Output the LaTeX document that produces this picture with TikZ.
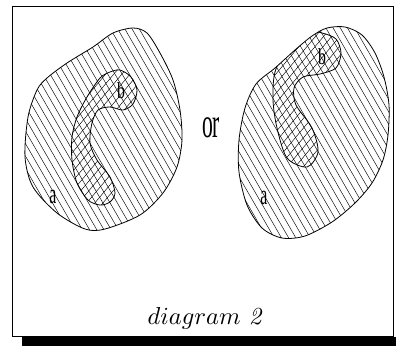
\documentclass[tikz,border=0pt]{standalone}
\usepackage{fontspec}
\newfontfamily\tms{Liberation Serif}
\begin{document}
\begin{tikzpicture}[x=1pt,y=-1pt,
  outline/.style={line width=0.8pt},
  hatchline/.style={line width=0.45pt},
  lbl/.style={inner sep=0pt, font=\tms}]
\def\leftA{plot[smooth cycle] coordinates {(133,28) (147,33) (160,53) (173,80) (180,110) (182,140) (177,167) (163,193) (140,215) (105,229) (85,229) (57,213) (33,187) (25,157) (28,117) (37,90) (47,78) (67,63) (93,47) (113,33)}}
\def\leftB{plot[smooth cycle] coordinates {(120,70) (131,77) (137,90) (133,104) (123,110) (110,107) (98,110) (92,123) (90,143) (97,160) (110,177) (115,193) (110,202) (100,205) (88,200) (77,183) (72,160) (72,137) (77,117) (87,97) (100,78) (110,72)}}
\def\rightA{plot[smooth cycle] coordinates {(327,28) (345,27) (362,35) (375,53) (384,77) (389,105) (388,135) (383,160) (372,183) (355,203) (332,222) (305,236) (282,238) (262,228) (247,205) (239,172) (239,140) (245,108) (256,84) (275,68) (295,50) (312,36)}}
\def\rightB{plot[smooth cycle] coordinates {(322,33) (336,39) (341,53) (336,68) (320,74) (303,77) (294,88) (296,105) (312,128) (318,152) (307,167) (287,158) (277,128) (273,100) (275,72) (288,46) (305,31)}}
\def\backlines{\foreach \i in {0,...,85} {\draw[hatchline] ({-200+7.2*\i},-10) -- ++(144.3,250);}}
\def\fwdlines{\foreach \i in {0,...,80} {\draw[hatchline] ({-220+8.1*\i},250) -- ++(218,-260);}}
\useasboundingbox (0,0) rectangle (396,346);
\fill (22,337) rectangle (396,346);
\draw[line width=0.9pt] (12,6) rectangle (393.5,336);
% left blob
\begin{scope}
  \clip \leftA;
  \backlines
  \begin{scope}
    \clip \leftB;
    \fwdlines
  \end{scope}
  \draw[outline] \leftB;
\end{scope}
\draw[outline] \leftA;
% right blob
\begin{scope}
  \clip \rightA;
  \backlines
  \begin{scope}
    \clip \rightB;
    \fwdlines
  \end{scope}
  \draw[outline] \rightB;
\end{scope}
\draw[outline] \rightA;
% labels
\node[lbl] (la) at (53,197) {\scalebox{1}[1.8]{\fontsize{15.8}{16}\selectfont a}};
\node[lbl] (lb) at (121,91) {\scalebox{1}[1.45]{\fontsize{15.8}{16}\selectfont b}};
\node[lbl] (ra) at (264,198) {\scalebox{1}[1.8]{\fontsize{15.8}{16}\selectfont a}};
\node[lbl] (rb) at (322,57) {\scalebox{1}[1.45]{\fontsize{15.8}{16}\selectfont b}};
\node[lbl] (or) at (211,128) {\scalebox{1}[1.95]{\fontsize{21.6}{22}\selectfont or}};
\node[inner sep=0pt, anchor=base] (cap) at (204.5,324) {\scalebox{2.45}{$diagram\ \mathit{2}$}};
\end{tikzpicture}
\end{document}
